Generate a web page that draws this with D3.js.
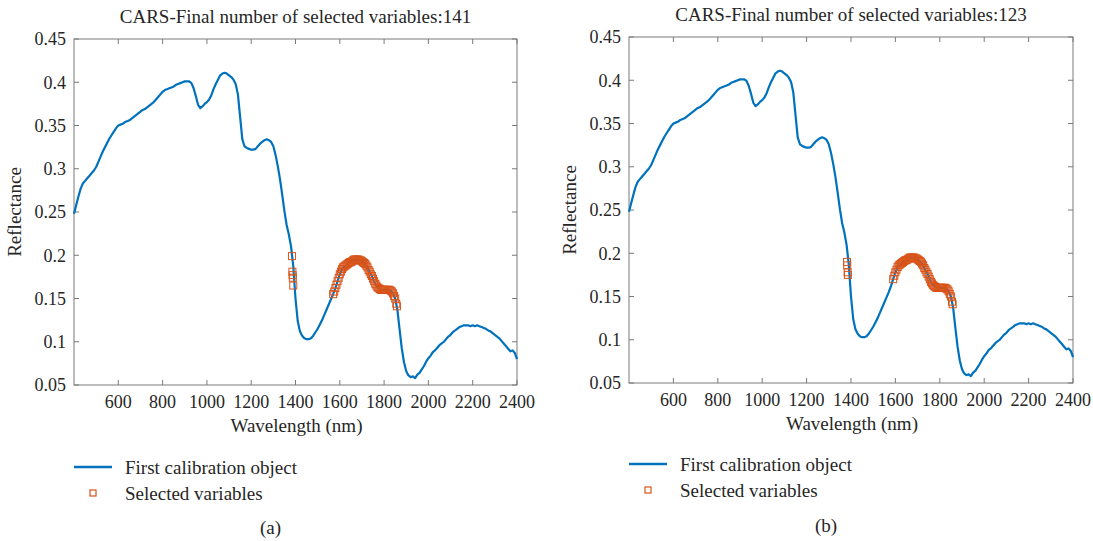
<!DOCTYPE html>
<html>
<head>
<meta charset="utf-8">
<script src="https://cdn.jsdelivr.net/npm/d3@7"></script>
<style>
  html, body { margin: 0; padding: 0; background: #fff; }
  svg { display: block; font-family: "Liberation Serif", "DejaVu Serif", serif; }
</style>
</head>
<body>
<svg id="chart" width="1093" height="541"></svg>
<script>
// Reflectance spectrum of the first calibration object, sampled every 10 nm (400–2400 nm)
const wavelengths = d3.range(400, 2401, 10);
const reflectance = [
  0.248, 0.258, 0.268, 0.277, 0.283, 0.286, 0.289, 0.292, 0.295, 0.298,
  0.302, 0.308, 0.314, 0.320, 0.325, 0.330, 0.335, 0.339, 0.343, 0.347,
  0.350, 0.351, 0.352, 0.354, 0.355, 0.356, 0.358, 0.360, 0.362, 0.364,
  0.366, 0.368, 0.369, 0.371, 0.373, 0.375, 0.377, 0.380, 0.383, 0.386,
  0.389, 0.391, 0.392, 0.393, 0.394, 0.395, 0.397, 0.398, 0.399, 0.400,
  0.401, 0.401, 0.401, 0.399, 0.393, 0.384, 0.374, 0.370, 0.372, 0.375,
  0.377, 0.380, 0.385, 0.392, 0.398, 0.403, 0.408, 0.410, 0.411, 0.410,
  0.408, 0.406, 0.403, 0.398, 0.386, 0.360, 0.334, 0.326, 0.324, 0.323,
  0.322, 0.322, 0.323, 0.326, 0.329, 0.331, 0.333, 0.334, 0.333, 0.331,
  0.326, 0.316, 0.303, 0.288, 0.270, 0.251, 0.235, 0.224, 0.210, 0.187,
  0.150, 0.124, 0.112, 0.107, 0.104, 0.103, 0.103, 0.104, 0.107, 0.111,
  0.115, 0.120, 0.125, 0.131, 0.137, 0.143, 0.149, 0.155, 0.162, 0.170,
  0.178, 0.184, 0.187, 0.189, 0.191, 0.192, 0.194, 0.195, 0.195, 0.194,
  0.193, 0.191, 0.188, 0.183, 0.178, 0.173, 0.167, 0.163, 0.161, 0.160,
  0.160, 0.160, 0.160, 0.159, 0.156, 0.150, 0.137, 0.114, 0.092, 0.076,
  0.066, 0.061, 0.059, 0.060, 0.058, 0.062, 0.064, 0.068, 0.072, 0.077,
  0.081, 0.084, 0.088, 0.090, 0.093, 0.096, 0.098, 0.100, 0.103, 0.106,
  0.108, 0.111, 0.113, 0.115, 0.117, 0.118, 0.119, 0.119, 0.119, 0.118,
  0.119, 0.118, 0.119, 0.118, 0.117, 0.116, 0.115, 0.113, 0.112, 0.110,
  0.108, 0.106, 0.104, 0.101, 0.098, 0.095, 0.092, 0.089, 0.090, 0.087,
  0.080
];

// Variables retained by CARS: [wavelength (nm), reflectance]
const selectedWaterEdgeA = [[1384, 0.199], [1386, 0.181], [1387, 0.177], [1388, 0.174], [1390, 0.165]];
const selectedWaterEdgeB = [[1382, 0.190], [1383, 0.186], [1385, 0.178], [1386, 0.175]];
const selectedBand = [
  [1570, 0.155], [1575, 0.158], [1580, 0.162], [1585, 0.166], [1590, 0.170],
  [1595, 0.174], [1600, 0.178], [1605, 0.181], [1610, 0.184], [1615, 0.186],
  [1620, 0.187], [1625, 0.188], [1630, 0.189], [1635, 0.190], [1640, 0.191],
  [1645, 0.192], [1650, 0.192], [1655, 0.193], [1660, 0.194], [1665, 0.195],
  [1670, 0.195], [1675, 0.195], [1680, 0.195], [1685, 0.195], [1690, 0.194],
  [1695, 0.194], [1700, 0.193], [1705, 0.192], [1710, 0.191], [1715, 0.190],
  [1720, 0.188], [1725, 0.186], [1730, 0.183], [1735, 0.181], [1740, 0.178],
  [1745, 0.176], [1750, 0.173], [1755, 0.170], [1760, 0.167], [1765, 0.165],
  [1770, 0.163], [1775, 0.162], [1780, 0.161], [1785, 0.160], [1790, 0.160],
  [1795, 0.160], [1800, 0.160], [1805, 0.160], [1810, 0.160], [1815, 0.160],
  [1820, 0.160], [1825, 0.160], [1830, 0.159], [1835, 0.158], [1840, 0.156],
  [1845, 0.153], [1850, 0.150], [1855, 0.144], [1858, 0.141]
];
const selectedA = selectedWaterEdgeA.concat(selectedBand);
const selectedB = selectedWaterEdgeB.concat(selectedBand.filter(d => d[0] >= 1590));

const panelTitles = ["CARS-Final number of selected variables:141", "CARS-Final number of selected variables:123"];
const panelLetters = ["(a)", "(b)"];
const xTickValues = [600, 800, 1000, 1200, 1400, 1600, 1800, 2000, 2200, 2400];
const yTickValues = [0.05, 0.1, 0.15, 0.2, 0.25, 0.3, 0.35, 0.4, 0.45];
const yTickLabels = ["0.05", "0.1", "0.15", "0.2", "0.25", "0.3", "0.35", "0.4", "0.45"];
const legendLabels = ["First calibration object", "Selected variables"];

const lineColor = "#0072BD";
const markerColor = "#D95319";
const textColor = "#262626";
const axisColor = "#7a7a7a";

const svg = d3.select("#chart");
const spectrum = wavelengths.map((w, i) => [w, reflectance[i]]);

const panels = [
  { left: 74, right: 517, top: 39, bottom: 385, selected: selectedA, title: panelTitles[0], letter: panelLetters[0], legendY: 467, letterY: 534 },
  { left: 629, right: 1073, top: 37, bottom: 383, selected: selectedB, title: panelTitles[1], letter: panelLetters[1], legendY: 464, letterY: 532 }
];

panels.forEach(p => {
  const g = svg.append("g");
  const x = d3.scaleLinear().domain([400, 2400]).range([p.left, p.right]);
  const y = d3.scaleLinear().domain([0.05, 0.45]).range([p.bottom, p.top]);
  const tickLen = 5;

  // Box
  g.append("rect")
    .attr("x", p.left).attr("y", p.top)
    .attr("width", p.right - p.left).attr("height", p.bottom - p.top)
    .attr("fill", "none").attr("stroke", axisColor).attr("stroke-width", 1);

  // Inward ticks on all four sides
  const tickStyle = sel => sel.attr("stroke", axisColor).attr("stroke-width", 1);
  xTickValues.forEach(v => {
    g.append("line").attr("x1", x(v)).attr("x2", x(v)).attr("y1", p.bottom).attr("y2", p.bottom - tickLen).call(tickStyle);
    g.append("line").attr("x1", x(v)).attr("x2", x(v)).attr("y1", p.top).attr("y2", p.top + tickLen).call(tickStyle);
  });
  yTickValues.forEach(v => {
    g.append("line").attr("x1", p.left).attr("x2", p.left + tickLen).attr("y1", y(v)).attr("y2", y(v)).call(tickStyle);
    g.append("line").attr("x1", p.right).attr("x2", p.right - tickLen).attr("y1", y(v)).attr("y2", y(v)).call(tickStyle);
  });

  // Tick labels
  g.selectAll(".xt").data(xTickValues).enter().append("text")
    .attr("x", d => x(d)).attr("y", p.bottom + 23)
    .attr("text-anchor", "middle").attr("font-size", 18).attr("fill", textColor)
    .text(d => d);
  g.selectAll(".yt").data(yTickValues).enter().append("text")
    .attr("x", p.left - 8).attr("y", d => y(d)).attr("dy", "0.35em")
    .attr("text-anchor", "end").attr("font-size", 18).attr("fill", textColor)
    .text((d, i) => yTickLabels[i]);

  // Axis titles
  const cx = (p.left + p.right) / 2;
  g.append("text").attr("x", cx + 1).attr("y", p.bottom + 47)
    .attr("text-anchor", "middle").attr("font-size", 19).attr("fill", textColor)
    .text("Wavelength (nm)");
  g.append("text")
    .attr("transform", `translate(${p.left - 53},${(p.top + p.bottom) / 2}) rotate(-90)`)
    .attr("text-anchor", "middle").attr("font-size", 19).attr("fill", textColor)
    .text("Reflectance");
  g.append("text").attr("x", cx).attr("y", p.top - 16)
    .attr("text-anchor", "middle").attr("font-size", 19).attr("fill", textColor)
    .text(p.title);

  // Spectrum line
  const line = d3.line().x(d => x(d[0])).y(d => y(d[1]));
  g.append("path").datum(spectrum)
    .attr("d", line).attr("fill", "none")
    .attr("stroke", lineColor).attr("stroke-width", 2.2).attr("stroke-linejoin", "round");

  // Selected variable markers
  const s = 7;
  g.selectAll(".sel").data(p.selected).enter().append("rect")
    .attr("x", d => x(d[0]) - s / 2).attr("y", d => y(d[1]) - s / 2)
    .attr("width", s).attr("height", s)
    .attr("fill", "none").attr("stroke", markerColor).attr("stroke-width", 1);

  // Legend
  const lx = p.left;
  g.append("line").attr("x1", lx).attr("x2", lx + 38).attr("y1", p.legendY).attr("y2", p.legendY)
    .attr("stroke", lineColor).attr("stroke-width", 2.5);
  g.append("rect").attr("x", lx + 19 - 3).attr("y", p.legendY + 26 - 3).attr("width", 6).attr("height", 6)
    .attr("fill", "none").attr("stroke", markerColor).attr("stroke-width", 1.2);
  legendLabels.forEach((t, i) => {
    g.append("text").attr("x", lx + 51).attr("y", p.legendY + i * 26).attr("dy", "0.35em")
      .attr("font-size", 19).attr("fill", textColor).text(t);
  });

  // Panel letter
  g.append("text").attr("x", cx - 25).attr("y", p.letterY)
    .attr("text-anchor", "middle").attr("font-size", 19).attr("fill", textColor)
    .text(p.letter);
});
</script>
</body>
</html>
